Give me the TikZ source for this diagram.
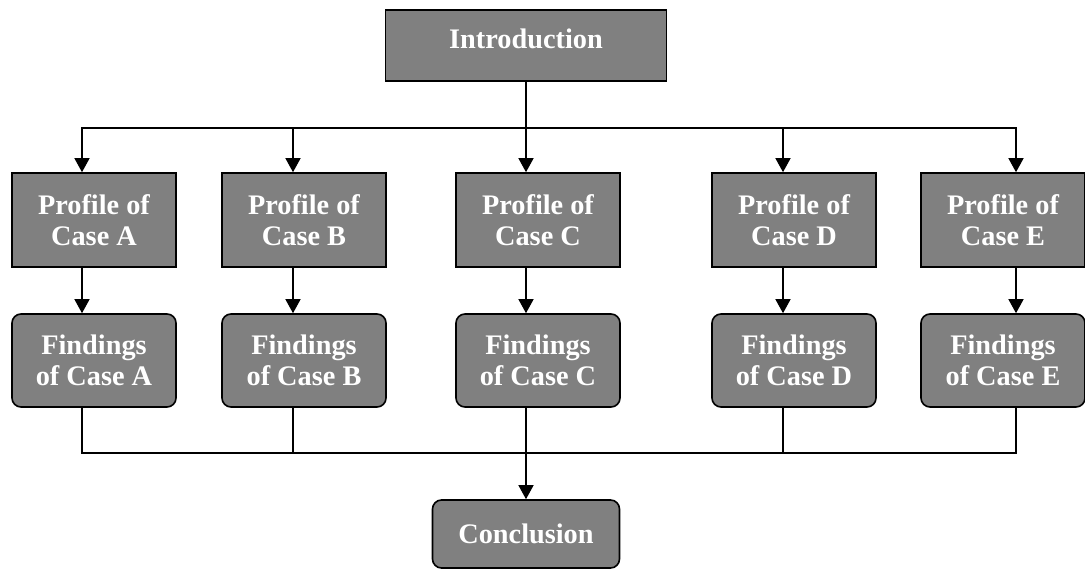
\documentclass[tikz,border=0pt]{standalone}
\usepackage{fontspec}
\setmainfont{Liberation Serif}
\usetikzlibrary{arrows.meta}
\definecolor{boxgray}{HTML}{808080}
\begin{document}
\begin{tikzpicture}[x=1pt,y=-1pt,
  box/.style={draw=black, line width=1.6pt, fill=boxgray, text=white,
    font=\fontsize{28.3}{31}\selectfont\bfseries, align=center, inner sep=0pt,
    minimum width=164pt, minimum height=94pt},
  findingbox/.style={box, rounded corners=9pt, minimum height=93pt},
  wire/.style={line width=1.4pt},
  bus/.style={wire, line cap=rect},
  arr/.style={wire, -{Triangle[length=14pt,width=15pt]}}]
\useasboundingbox (0,0) rectangle (1085,569);

% title and closing boxes
\node[box, minimum width=281pt, minimum height=71pt, text height=19.5pt, text depth=14pt]
  (intro) at (526,45.5) {Introduction};
\node[findingbox, minimum width=187pt, minimum height=68pt]
  (concl) at (526,534) {Conclusion};

% case profiles
\node[box] (pa) at (94,220)   {Profile of\\Case A};
\node[box] (pb) at (304,220)  {Profile of\\Case B};
\node[box] (pc) at (538,220)  {Profile of\\Case C};
\node[box] (pd) at (794,220)  {Profile of\\Case D};
\node[box] (pe) at (1003,220) {Profile of\\Case E};

% case findings
\node[findingbox] (fa) at (94,360.5)   {Findings\\of Case A};
\node[findingbox] (fb) at (304,360.5)  {Findings\\of Case B};
\node[findingbox] (fc) at (538,360.5)  {Findings\\of Case C};
\node[findingbox] (fd) at (794,360.5)  {Findings\\of Case D};
\node[findingbox] (fe) at (1003,360.5) {Findings\\of Case E};

% distribution bus below the introduction
\coordinate (ta) at (82,128);
\coordinate (tb) at (293,128);
\coordinate (tc) at (526,128);
\coordinate (td) at (783,128);
\coordinate (te) at (1016,128);
% collecting bus above the conclusion
\coordinate (ba) at (82,453);
\coordinate (bb) at (293,453);
\coordinate (bc) at (526,453);
\coordinate (bd) at (783,453);
\coordinate (be) at (1016,453);

\draw[wire] (intro.south) -- (intro.south |- ta);
\draw[bus] (ta) -- (te);
\draw[bus] (ba) -- (be);

\foreach \c/\p/\f/\b in {ta/pa/fa/ba, tb/pb/fb/bb, tc/pc/fc/bc, td/pd/fd/bd, te/pe/fe/be}{
  \draw[arr] (\c) -- (\c |- \p.north);
  \draw[arr] (\c |- \p.south) -- (\c |- \f.north);
  \draw[bus] (\c |- \f.south) -- (\b);
}

\draw[arr] (bc) -- (bc |- concl.north);
\end{tikzpicture}
\end{document}
